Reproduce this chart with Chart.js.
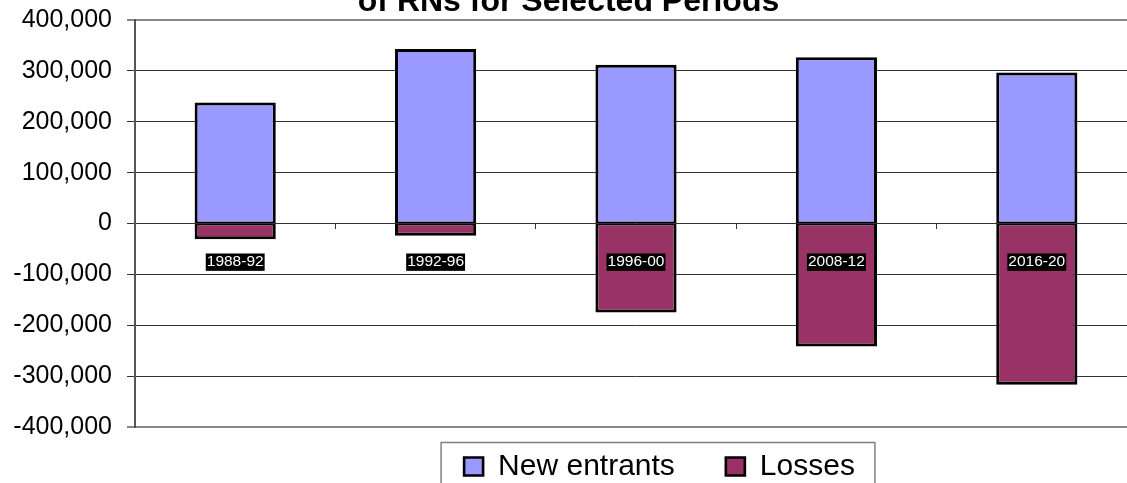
<!DOCTYPE html>
<html>
<head>
<meta charset="utf-8">
<script src="https://cdn.jsdelivr.net/npm/chart.js@4/dist/chart.umd.min.js"></script>
<style>
  html, body { margin: 0; padding: 0; overflow: hidden; background: #fff; }
  #wrap { position: relative; width: 1140px; height: 518px; }
</style>
</head>
<body>
<div id="wrap"><canvas id="rnChart"></canvas></div>
<script>
// 数据
const titleText = 'of RNs for Selected Periods';
const periods = ['1988-92', '1992-96', '1996-00', '2008-12', '2016-20'];
const newEntrants = [238000, 343000, 312000, 327000, 297000];
const losses = [-31000, -24000, -175000, -242000, -317000];
const yMin = -400000;
const yMax = 400000;
const yStep = 100000;

Chart.defaults.font.family = '"Liberation Sans", Arial, sans-serif';
Chart.defaults.color = '#000';

// 图例位置和外框 (Excel 风格)
const legendFrame = {
    id: 'legendFrame',
    afterLayout(chart) {
        const lg = chart.legend;
        lg.left += 91;
        lg.right += 91;
        lg.top -= 26.5;
        lg.bottom -= 26.5;
    },
    afterDraw(chart) {
        const boxes = chart.legend.legendHitBoxes;
        if (!boxes || !boxes.length) return;
        const first = boxes[0];
        const last = boxes[boxes.length - 1];
        const ctx = chart.ctx;
        const left = first.left - 23;
        const top = first.top - 9;
        const right = last.left + last.width + 20;
        ctx.save();
        ctx.strokeStyle = '#808080';
        ctx.lineWidth = 1.5;
        ctx.strokeRect(left, top, right - left, chart.height + 10 - top);
        ctx.restore();
    }
};

function initializeRnChart() {
    const ctx = document.getElementById('rnChart').getContext('2d');

    const data = {
        labels: periods,
        datasets: [{
            label: 'New entrants',
            data: newEntrants,
            backgroundColor: '#9999FF',
            borderColor: '#000',
            borderWidth: { top: 3, left: 3, right: 3, bottom: 1.5 },
            borderSkipped: false
        }, {
            label: 'Losses',
            data: losses,
            backgroundColor: '#993366',
            borderColor: '#000',
            borderWidth: { top: 1.5, left: 3, right: 3, bottom: 3 },
            borderSkipped: false
        }]
    };

    const options = {
        responsive: true,
        maintainAspectRatio: false,
        animation: false,
        layout: {
            padding: { left: 0, right: 3, top: 0, bottom: 0 }
        },
        datasets: {
            bar: {
                categoryPercentage: 0.405,
                barPercentage: 1
            }
        },
        plugins: {
            title: {
                display: true,
                text: titleText,
                font: { size: 32, weight: 'bold', lineHeight: 1.2 },
                color: '#000',
                padding: { top: -17, bottom: -1.4 }
            },
            legend: {
                position: 'bottom',
                labels: {
                    boxWidth: 19,
                    boxHeight: 18,
                    padding: 51,
                    color: '#000',
                    font: { size: 30 }
                }
            },
            tooltip: { enabled: false }
        },
        scales: {
            x: {
                stacked: true,
                position: { y: 0 },
                border: { display: false },
                grid: {
                    offset: true,
                    drawOnChartArea: false,
                    tickLength: 5,
                    color: '#333'
                },
                ticks: {
                    z: 1,
                    color: '#fff',
                    font: { size: 15.5, lineHeight: 1.12 },
                    padding: 25,
                    maxRotation: 0,
                    autoSkip: false,
                    showLabelBackdrop: true,
                    backdropColor: '#000',
                    backdropPadding: { left: 1, right: 1, top: 0, bottom: 0 }
                }
            },
            y: {
                stacked: true,
                min: yMin,
                max: yMax,
                afterFit: function(scale) {
                    scale.width = 135;
                    scale.paddingTop = 0;
                    scale.paddingBottom = 0;
                },
                border: { display: true, color: '#555', width: 2 },
                grid: {
                    tickLength: 8,
                    color: function(c) {
                        if (c.tick && (c.tick.value === yMax || c.tick.value === yMin)) return '#888';
                        return '#333';
                    },
                    lineWidth: function(c) {
                        if (c.tick && (c.tick.value === yMax || c.tick.value === yMin)) return 2;
                        return 1;
                    }
                },
                ticks: {
                    stepSize: yStep,
                    padding: 15,
                    color: '#000',
                    font: { size: 25 },
                    callback: function(value) {
                        return value.toLocaleString('en-US');
                    }
                }
            }
        }
    };

    new Chart(ctx, {
        type: 'bar',
        data: data,
        options: options,
        plugins: [legendFrame]
    });
}

initializeRnChart();
</script>
</body>
</html>
